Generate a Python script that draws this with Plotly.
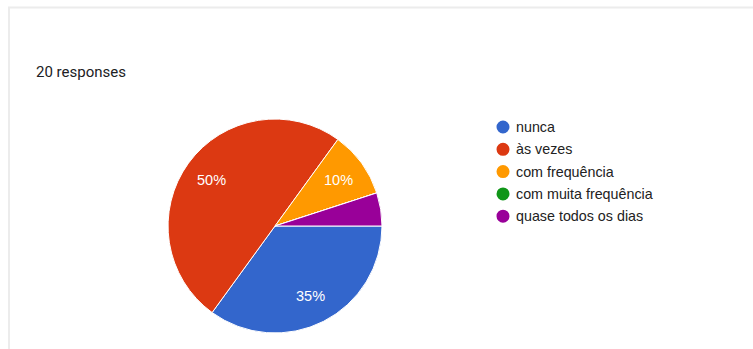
import math
import plotly.graph_objects as go

# Survey answers (20 responses)
categories = ["nunca", "às vezes", "com frequência", "com muita frequência", "quase todos os dias"]
counts = [7, 10, 2, 0, 1]
colors = ["#3366cc", "#dc3912", "#ff9900", "#109618", "#990099"]
total_label = "20 responses"

W, H = 753, 349
total = sum(counts)

# pie placement in pixels
pie_left, pie_right, pie_top, pie_bottom = 168, 382, 119, 333
cx_px, cy_px = (pie_left + pie_right) / 2, (pie_top + pie_bottom) / 2
radius_px = (pie_right - pie_left) / 2

fig = go.Figure()
fig.add_trace(go.Pie(
    labels=categories,
    values=counts,
    textinfo="none",
    marker=dict(colors=colors, line=dict(color="white", width=1)),
    sort=False,
    direction="clockwise",
    rotation=90,
    showlegend=False,
    hoverinfo="label+percent",
    domain=dict(x=[pie_left / W, pie_right / W], y=[1 - pie_bottom / H, 1 - pie_top / H]),
))

shapes = [
    dict(type="line", xref="paper", yref="paper", x0=8 / W, x1=1, y0=1 - 7.5 / H, y1=1 - 7.5 / H,
         line=dict(color="#ececec", width=2)),
    dict(type="line", xref="paper", yref="paper", x0=9 / W, x1=9 / W, y0=0, y1=1 - 7 / H,
         line=dict(color="#ececec", width=2)),
]
annotations = [
    dict(text=total_label, xref="paper", yref="paper", x=34 / W, y=1 - 72 / H, xanchor="left",
         yanchor="middle", showarrow=False,
         font=dict(family="Roboto, sans-serif", size=15, color="#202124")),
]

# percentage labels placed at the middle angle of each slice (clockwise from 3 o'clock)
cum = 0
for c in counts:
    frac = c / total
    if frac >= 0.08:
        ang = 2 * math.pi * (cum + frac / 2)
        lx = cx_px + 0.73 * radius_px * math.cos(ang)
        ly = cy_px + 0.73 * radius_px * math.sin(ang)
        annotations.append(dict(text=f"{round(frac * 100)}%", xref="paper", yref="paper",
                                x=lx / W, y=1 - ly / H, xanchor="center", yanchor="middle",
                                showarrow=False,
                                font=dict(family="Liberation Sans, Arial, sans-serif", size=14.5,
                                          color="white")))
    cum += frac

# legend: colored dots with category names
leg_x, leg_y0, leg_dy = 503, 127, 22.3
for i, (name, col) in enumerate(zip(categories, colors)):
    yy = 1 - (leg_y0 + i * leg_dy) / H
    shapes.append(dict(type="circle", xref="paper", yref="paper", xsizemode="pixel", ysizemode="pixel",
                       xanchor=leg_x / W, yanchor=yy, x0=-6.5, x1=6.5, y0=-6.5, y1=6.5,
                       fillcolor=col, line=dict(width=0)))
    annotations.append(dict(text=name, xref="paper", yref="paper", x=(leg_x + 11) / W, y=yy,
                            xanchor="left", yanchor="middle", showarrow=False,
                            font=dict(family="Liberation Sans, Arial, sans-serif", size=14.3,
                                      color="#222222")))

fig.update_layout(
    width=W, height=H,
    margin=dict(l=0, r=0, t=0, b=0),
    paper_bgcolor="white",
    plot_bgcolor="white",
    shapes=shapes,
    annotations=annotations,
)

fig.write_html("out.html")
